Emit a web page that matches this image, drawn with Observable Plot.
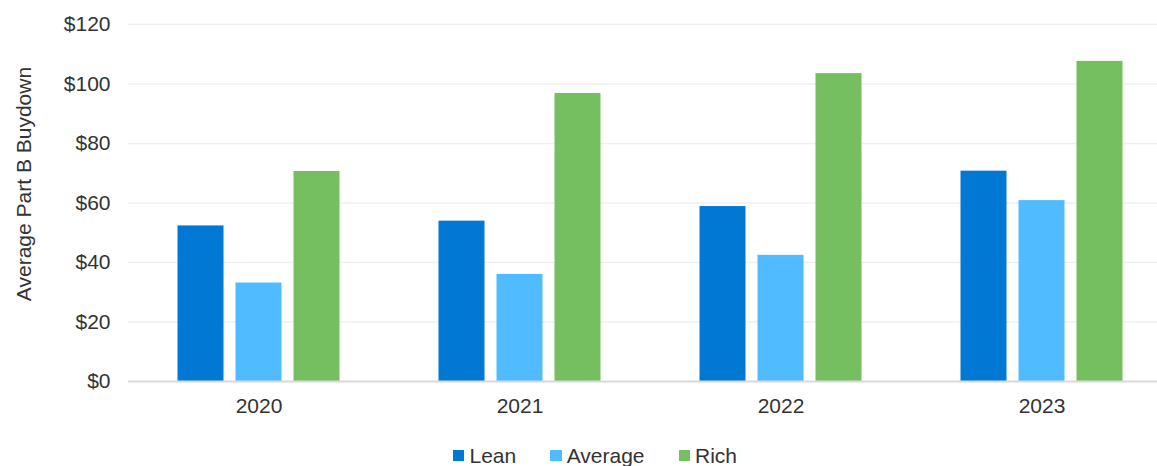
<!DOCTYPE html>
<html>
<head>
<meta charset="utf-8">
<script src="https://cdn.jsdelivr.net/npm/d3@7"></script>
<script src="https://cdn.jsdelivr.net/npm/@observablehq/plot@0.6"></script>
<style>
  html, body { margin: 0; padding: 0; background: #fff; }
  body { font-family: "Liberation Sans", Arial, sans-serif; color: #333; }
  #wrap { width: 1157px; }
  .legend { display: flex; justify-content: center; align-items: center; padding-left: 33px; margin-top: 5px; font-size: 21px; line-height: 21px; color: #333; }
  .legend .item { display: flex; align-items: center; margin-right: 34px; }
  .legend .item:last-child { margin-right: 0; }
  .legend .sw { width: 11.5px; height: 11.5px; margin-right: 5px; }
</style>
</head>
<body>
<div id="wrap"></div>
<script>
const years = ["2020", "2021", "2022", "2023"];
const seriesNames = ["Lean", "Average", "Rich"];
const leanValues = [52.3, 53.9, 58.8, 70.7];
const averageValues = [33.1, 36.0, 42.4, 60.8];
const richValues = [70.6, 96.8, 103.5, 107.6];
const colors = ["#0078D4", "#50BCFF", "#75BF60"];
const yTicks = [0, 20, 40, 60, 80, 100, 120];
const yTitle = "Average Part B Buydown";

const valuesBySeries = [leanValues, averageValues, richValues];
const data = [];
years.forEach((yr, i) => {
  seriesNames.forEach((s, j) => data.push({year: yr, series: s, value: valuesBySeries[j][i]}));
});

const chart = Plot.plot({
  width: 1157,
  height: 440,
  marginLeft: 127.5,
  marginRight: -14.5,
  marginTop: 24,
  marginBottom: 59,
  style: {fontFamily: '"Liberation Sans", Arial, sans-serif', fontSize: "21px", color: "#333", background: "#fff"},
  fx: {domain: years, padding: 0, label: null},
  x: {domain: seriesNames, paddingInner: 0.215, paddingOuter: 0.857, axis: null},
  y: {domain: [0, 120], label: null},
  color: {domain: seriesNames, range: colors},
  marks: [
    Plot.ruleY(yTicks.filter(d => d > 0), {stroke: "#efefef", strokeWidth: 1.5}),
    Plot.barY(data, {fx: "year", x: "series", y: "value", fill: "series"}),
    Plot.ruleY([0], {stroke: "#d9d9d9", strokeWidth: 2}),
    Plot.axisY({ticks: yTicks, tickFormat: d => "$" + d, tickSize: 0, tickPadding: 18, fontSize: 21, label: null}),
    Plot.axisFx({anchor: "bottom", tickSize: 0, tickPadding: 17, fontSize: 21, label: null})
  ]
});

d3.select(chart).append("text")
  .attr("transform", "translate(30.5,184) rotate(-90)")
  .attr("text-anchor", "middle")
  .attr("fill", "#333")
  .attr("font-size", 21)
  .attr("font-family", '"Liberation Sans", Arial, sans-serif')
  .text(yTitle);

const wrap = document.getElementById("wrap");
wrap.appendChild(chart);

const legend = document.createElement("div");
legend.className = "legend";
seriesNames.forEach((s, i) => {
  const item = document.createElement("div");
  item.className = "item";
  const sw = document.createElement("span");
  sw.className = "sw";
  sw.style.background = colors[i];
  const lab = document.createElement("span");
  lab.textContent = s;
  item.appendChild(sw);
  item.appendChild(lab);
  legend.appendChild(item);
});
wrap.appendChild(legend);
</script>
</body>
</html>
